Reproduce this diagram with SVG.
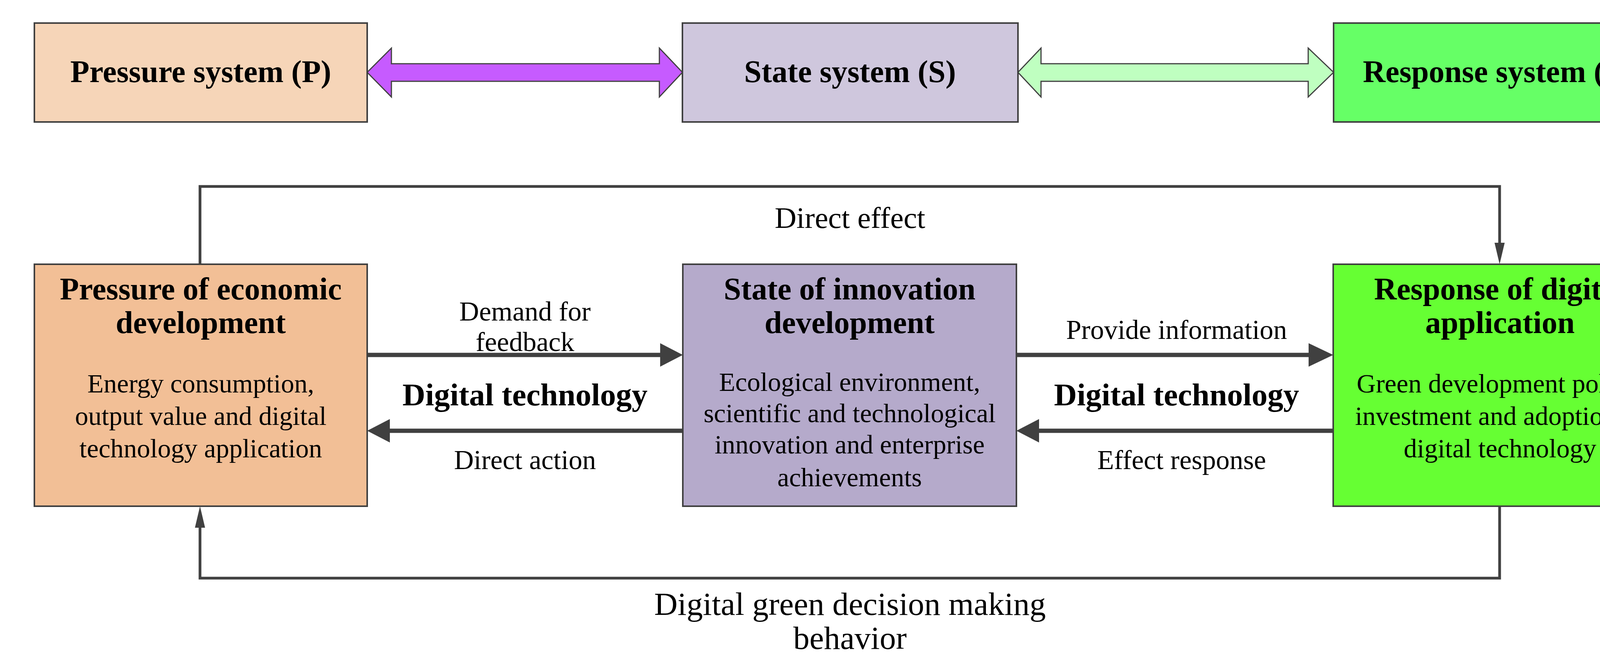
<svg xmlns="http://www.w3.org/2000/svg" width="4336" height="1714" viewBox="0 0 4336 1714">
<style>
text{font-family:"Liberation Serif","DejaVu Serif",serif;fill:#000;text-anchor:middle}
.t{font-size:80px;font-weight:bold}
.b{font-size:68px}
.l{font-size:70px}
.d{font-size:81px;font-weight:bold}
.g{font-size:83px}
.box{stroke:#404040;stroke-width:4}
.ln{fill:none;stroke:#404040;stroke-width:7}
.ar{fill:none;stroke:#404040;stroke-width:11}
</style>
<g id="pressure-system"><rect class="box" x="88" y="59" width="852" height="253" fill="#F6D5B8"/><text class="t" x="514" y="210">Pressure system (P)</text></g>
<g id="state-system"><rect class="box" x="1747" y="59" width="859" height="253" fill="#CFC7DD"/><text class="t" x="2176" y="210">State system (S)</text></g>
<g id="response-system"><rect class="box" x="3414" y="59" width="853" height="253" fill="#66FF66"/><text class="t" x="3840" y="210">Response system (R)</text></g>
<g id="pressure"><rect class="box" x="88" y="676" width="852" height="619" fill="#F2BF96"/>
<text class="t" x="514" y="766">Pressure of economic</text><text class="t" x="514" y="852">development</text>
<text class="b" x="514" y="1004">Energy consumption,</text><text class="b" x="514" y="1087">output value and digital</text><text class="b" x="514" y="1170">technology application</text></g>
<g id="state"><rect class="box" x="1748" y="676" width="854" height="619" fill="#B5AACB"/>
<text class="t" x="2175" y="766">State of innovation</text><text class="t" x="2175" y="852">development</text>
<text class="b" x="2175" y="1000">Ecological environment,</text><text class="b" x="2175" y="1080">scientific and technological</text><text class="b" x="2175" y="1160">innovation and enterprise</text><text class="b" x="2175" y="1244">achievements</text></g>
<g id="response"><rect class="box" x="3413" y="676" width="854" height="619" fill="#66FF33"/>
<text class="t" x="3840" y="766">Response  of digital</text><text class="t" x="3840" y="852">application</text>
<text class="b" x="3840" y="1004">Green development policy,</text><text class="b" x="3840" y="1087">investment and adoption of</text><text class="b" x="3840" y="1170">digital technology</text></g>
<g id="connectors">
<path d="M940,185L1002,123L1002,163L1688,163L1688,123L1747,185L1688,248L1688,208L1002,208L1002,248Z" fill="#C65BFF" stroke="#404040" stroke-width="3"/>
<path d="M2606,185L2665,123L2665,163L3349,163L3349,123L3414,185L3349,248L3349,208L2665,208L2665,248Z" fill="#BFFFC0" stroke="#404040" stroke-width="3"/>
<path class="ln" d="M512,676L512,477L3839,477L3839,630"/>
<path d="M3826,621L3852,621L3839,676Z" fill="#404040"/>
<path class="ln" d="M3839,1295L3839,1479L512,1479L512,1345"/>
<path d="M499,1350L525,1350L512,1295Z" fill="#404040"/>
<path class="ar" d="M940,908L1700,908"/><path d="M1690,878L1748,908L1690,938Z" fill="#404040"/>
<path class="ar" d="M2602,908L3360,908"/><path d="M3350,878L3413,908L3350,938Z" fill="#404040"/>
<path class="ar" d="M1748,1102L990,1102"/><path d="M998,1072L940,1102L998,1132Z" fill="#404040"/>
<path class="ar" d="M3413,1102L2650,1102"/><path d="M2660,1072L2602,1102L2660,1132Z" fill="#404040"/>
<text class="l" x="2176" y="583" style="font-size:77px">Direct effect</text>
<text class="l" x="1344" y="820">Demand for</text><text class="l" x="1344" y="898">feedback</text>
<text class="d" x="1344" y="1037">Digital technology</text>
<text class="l" x="1344" y="1200">Direct action</text>
<text class="l" x="3012" y="867">Provide information</text>
<text class="d" x="3012" y="1037">Digital technology</text>
<text class="l" x="3025" y="1200">Effect response</text>
<text class="g" x="2176" y="1573">Digital green decision making</text>
<text class="g" x="2176" y="1660">behavior</text>
</g>
</svg>
